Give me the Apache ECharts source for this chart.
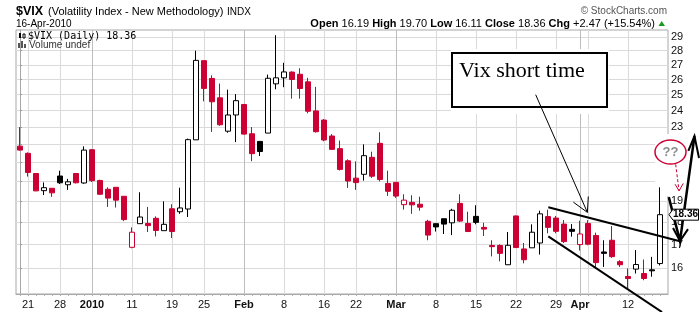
<!DOCTYPE html>
<html>
<head>
<meta charset="utf-8">
<script src="https://cdn.jsdelivr.net/npm/echarts@6/dist/echarts.min.js"></script>
<style>
  html, body { margin: 0; padding: 0; background: #fff; }
  #chart { width: 700px; height: 312px; }
</style>
</head>
<body>
<div id="chart"></div>
<script>
// daily bars, 18 Dec 2009 .. 16 Apr 2010
const dates = [
  'Dec 18', 'Dec 21', 'Dec 22', 'Dec 23', 'Dec 24', 'Dec 28', 'Dec 29', 'Dec 30', 'Dec 31',
  'Jan 4', 'Jan 5', 'Jan 6', 'Jan 7', 'Jan 8', 'Jan 11', 'Jan 12', 'Jan 13', 'Jan 14', 'Jan 15',
  'Jan 19', 'Jan 20', 'Jan 21', 'Jan 22', 'Jan 25', 'Jan 26', 'Jan 27', 'Jan 28', 'Jan 29',
  'Feb 1', 'Feb 2', 'Feb 3', 'Feb 4', 'Feb 5', 'Feb 8', 'Feb 9', 'Feb 10', 'Feb 11', 'Feb 12',
  'Feb 16', 'Feb 17', 'Feb 18', 'Feb 19', 'Feb 22', 'Feb 23', 'Feb 24', 'Feb 25', 'Feb 26',
  'Mar 1', 'Mar 2', 'Mar 3', 'Mar 4', 'Mar 5', 'Mar 8', 'Mar 9', 'Mar 10', 'Mar 11', 'Mar 12',
  'Mar 15', 'Mar 16', 'Mar 17', 'Mar 18', 'Mar 19', 'Mar 22', 'Mar 23', 'Mar 24', 'Mar 25', 'Mar 26',
  'Mar 29', 'Mar 30', 'Mar 31', 'Apr 1', 'Apr 5', 'Apr 6', 'Apr 7', 'Apr 8', 'Apr 9',
  'Apr 12', 'Apr 13', 'Apr 14', 'Apr 15', 'Apr 16'
];
const opens = [
  21.9, 21.5, 20.41, 19.53, 19.65, 20.28, 19.83, 20.41, 19.92,
  21.7, 20.05, 19.6, 19.7, 19.25, 16.88, 17.94, 17.95, 18.19, 17.62,
  18.64, 18.5, 18.63, 22.26, 27.29, 26.07, 24.8, 22.76, 23.73,
  24.38, 22.61, 22.17, 22.65, 25.71, 26.11, 26.5, 26.35, 25.84, 23.98,
  23.42, 22.48, 21.76, 21.09, 20.17, 20.37, 21.28, 22.06, 19.9,
  19.95, 18.84, 18.95, 18.86, 18.05, 17.94, 18.17, 17.98, 18.9, 17.95,
  18.28, 17.77, 16.96, 16.96, 16.14, 18.3, 16.81, 16.86, 17.07, 18.27,
  18.2, 17.92, 17.68, 17.0, 17.95, 17.4, 16.68, 17.19, 16.27,
  15.66, 15.96, 15.78, 15.93, 16.19
];
const highs = [
  23.0, 21.55, 20.44, 19.95, 19.65, 20.56, 20.13, 20.44, 21.89,
  21.74, 20.09, 19.7, 19.7, 19.25, 17.77, 19.45, 18.73, 18.28, 19.0,
  18.86, 19.68, 22.33, 28.0, 27.29, 26.28, 25.73, 25.33, 25.04,
  24.38, 23.0, 22.17, 26.33, 29.14, 27.14, 26.55, 26.76, 26.11, 25.51,
  23.48, 22.59, 22.22, 21.17, 21.06, 22.0, 21.59, 22.7, 20.56,
  19.95, 19.35, 19.3, 19.23, 18.12, 17.94, 18.17, 18.64, 19.35, 18.5,
  18.81, 17.98, 17.19, 17.01, 17.56, 18.32, 17.07, 17.91, 18.55, 18.6,
  18.3, 18.11, 17.92, 18.08, 18.1, 17.53, 17.19, 17.83, 16.33,
  15.99, 16.76, 16.36, 16.47, 19.7
];
const lows = [
  21.65, 20.25, 19.5, 19.31, 19.22, 19.87, 19.57, 19.9, 19.88,
  19.97, 19.31, 18.73, 18.7, 18.06, 16.84, 17.94, 17.56, 17.36, 17.62,
  17.29, 18.4, 18.25, 22.26, 24.58, 22.72, 23.08, 22.67, 22.13,
  22.57, 21.07, 21.35, 22.65, 25.35, 25.49, 24.75, 24.75, 23.83, 22.68,
  22.18, 21.68, 20.57, 19.67, 19.57, 20.04, 20.18, 20.0, 19.27,
  19.17, 18.6, 18.4, 18.55, 17.19, 17.58, 17.47, 17.42, 18.02, 17.56,
  17.91, 17.38, 16.49, 16.28, 16.13, 16.85, 16.2, 16.86, 16.57, 17.5,
  17.5, 17.07, 17.35, 16.74, 16.97, 16.05, 16.05, 16.43, 16.05,
  15.19, 15.78, 15.51, 15.65, 16.11
];
const closes = [
  21.68, 20.47, 19.52, 19.68, 19.42, 19.93, 19.98, 19.93, 21.68,
  20.04, 19.35, 19.16, 19.06, 18.13, 17.55, 18.25, 17.85, 17.63, 17.91,
  17.58, 18.68, 22.27, 27.31, 25.41, 24.55, 23.14, 23.73, 24.62,
  22.59, 21.48, 21.6, 26.08, 26.11, 26.51, 26.0, 25.4, 23.96, 22.73,
  22.25, 21.72, 20.63, 20.02, 19.94, 21.37, 20.27, 20.1, 19.5,
  19.26, 19.06, 18.83, 18.72, 17.42, 17.79, 17.92, 18.57, 18.06, 17.58,
  18.0, 17.69, 16.91, 16.62, 16.97, 16.87, 16.35, 17.55, 18.4, 17.77,
  17.59, 17.13, 17.59, 17.47, 17.02, 16.23, 16.62, 16.48, 16.14,
  15.58, 16.15, 15.58, 15.89, 18.36
];

// x axis: labelled bars, weekly grid, month grid
const labelIdx = [1, 5, 9, 14, 19, 23, 28, 33, 38, 42, 47, 52, 57, 62, 67, 70, 76];
const labelText = ['21', '28', '2010', '11', '19', '25', 'Feb', '8', '16', '22', 'Mar', '8', '15', '22', '29', 'Apr', '12'];
const weekLines = [1, 5, 9, 14, 19, 23, 28, 33, 38, 42, 47, 52, 57, 62, 67, 70, 71, 76];
const monthLines = [9, 28, 47, 70];

// y axis (log scale)
const priceTicks = [16, 17, 18, 19, 20, 21, 22, 23, 24, 25, 26, 27, 28, 29];
const priceMin = 14.97;
const priceMax = 29.53;

// hand drawn notes, as [bar index, price]
const pointerLine = [[64.46, 25.0], [70.92, 18.47]];
const pointerHead = [[69.17, 18.96], [70.92, 18.47], [71.04, 19.24]];
const wedgeUpper = [[66.04, 18.71], [82.5, 17.15]];
const wedgeLower = [[66.04, 17.36], [80.25, 14.29]];
const vArrow = [[81.1, 19.21], [82.5, 17.15], [84.31, 22.48]];
const vArrowTop = [[83.54, 21.64], [84.31, 22.48], [84.88, 21.24]];
const vArrowBottom = [[81.63, 17.74], [82.5, 17.15], [83.5, 17.69]];
const redArrow = [[81.96, 20.9], [82.38, 19.52]];
const redArrowHead = [[81.88, 19.86], [82.38, 19.52], [82.91, 19.9]];

const FONT = '"Liberation Sans", Arial, sans-serif';
const RED = '#cc0033';
const ln = Math.log;

const candleData = dates.map((d, i) => {
  const o = opens[i], c = closes[i];
  const prev = i > 0 ? closes[i - 1] : Infinity;
  const col = c < prev ? RED : '#000';
  const fill = c > o ? '#fff' : col;
  return {
    name: d,
    value: [i, ln(o), ln(c), ln(lows[i]), ln(highs[i])],
    itemStyle: { color: fill, color0: fill, borderColor: col, borderColor0: col, borderColorDoji: col }
  };
});

const notes = [
  { pts: pointerLine, color: '#000', width: 1 },
  { pts: pointerHead, color: '#000', width: 1 },
  { pts: wedgeUpper, color: '#000', width: 2 },
  { pts: wedgeLower, color: '#000', width: 2 },
  { pts: vArrow, color: '#000', width: 2.5 },
  { pts: vArrowTop, color: '#000', width: 2 },
  { pts: vArrowBottom, color: '#000', width: 2 },
  { pts: redArrow, color: RED, width: 1, dash: [3, 2] },
  { pts: redArrowHead, color: RED, width: 1 }
];

function renderNote(params, api) {
  const k = params.dataIndex;
  if (k === notes.length) {
    // last close tag on the price scale
    const last = closes[closes.length - 1];
    const y = api.coord([closes.length - 1, ln(last)])[1];
    const x0 = params.coordSys.x + params.coordSys.width + 1;
    return {
      type: 'group',
      children: [
        { type: 'polygon', shape: { points: [[x0, y], [x0 + 4, y - 5.5], [x0 + 29.5, y - 5.5], [x0 + 29.5, y + 5.5], [x0 + 4, y + 5.5]] },
          style: { fill: '#fff', stroke: '#000', lineWidth: 1 } },
        { type: 'text', x: x0 + 4, y: y, style: { text: last.toFixed(2), font: 'bold 10px ' + FONT, fill: '#000', verticalAlign: 'middle' } }
      ]
    };
  }
  const n = notes[k];
  return {
    type: 'polyline',
    shape: { points: n.pts.map(p => api.coord([p[0], ln(p[1])])) },
    style: { fill: null, stroke: n.color, lineWidth: n.width, lineDash: n.dash || null }
  };
}

const chart = echarts.init(document.getElementById('chart'));

const xBase = { type: 'value', min: -0.5, max: 81, position: 'bottom', axisLine: { show: false, onZero: false } };

chart.setOption({
  animation: false,
  grid: { left: 16, right: 32, top: 30, bottom: 18, show: true, borderColor: '#a8a8a8', borderWidth: 1 },
  xAxis: [
    Object.assign({}, xBase, {
      axisLine: { show: true, onZero: false, lineStyle: { color: '#a8a8a8' } },
      axisTick: { show: false, customValues: weekLines },
      splitLine: { show: true, customValues: weekLines, lineStyle: { color: '#dadada', width: 1 } },
      axisLabel: {
        customValues: labelIdx,
        margin: 5,
        color: '#111',
        fontFamily: FONT,
        fontSize: 11,
        formatter: v => {
          const t = labelText[labelIdx.indexOf(Math.round(v))];
          return /^[0-9]{1,2}$/.test(t) ? t : '{b|' + t + '}';
        },
        rich: { b: { fontWeight: 'bold', fontSize: 11, fontFamily: FONT, color: '#111' } }
      }
    }),
    Object.assign({}, xBase, {
      axisTick: { show: false, customValues: monthLines },
      splitLine: { show: true, customValues: monthLines, lineStyle: { color: '#bdbdbd', width: 1 } },
      axisLabel: { show: false }
    }),
    Object.assign({}, xBase, {
      axisTick: { show: true, length: 2, customValues: dates.map((d, i) => i), lineStyle: { color: '#b0b0b0' } },
      splitLine: { show: false },
      axisLabel: { show: false }
    })
  ],
  yAxis: {
    type: 'value',
    position: 'right',
    min: ln(priceMin),
    max: ln(priceMax),
    axisLine: { show: true, lineStyle: { color: '#a8a8a8' } },
    axisTick: { show: true, length: 2, customValues: priceTicks.map(ln), lineStyle: { color: '#999' } },
    splitLine: { show: true, customValues: priceTicks.map(ln), lineStyle: { color: '#dadada', width: 1 } },
    axisLabel: {
      customValues: priceTicks.map(ln),
      margin: 3,
      color: '#111',
      fontFamily: FONT,
      fontSize: 11,
      formatter: v => String(Math.round(Math.exp(v)))
    }
  },
  graphic: [
    { type: 'text', x: 16, y: 11.5, z: 1, style: { text: '$VIX', font: 'bold 12.5px ' + FONT, fill: '#000', verticalAlign: 'middle' } },
    { type: 'text', x: 48, y: 12, z: 1, style: { text: '(Volatility Index - New Methodology)', font: '11px ' + FONT, fill: '#000', verticalAlign: 'middle' } },
    { type: 'text', x: 227, y: 12.5, z: 1, style: { text: 'INDX', font: '10px ' + FONT, fill: '#000', verticalAlign: 'middle' } },
    { type: 'text', x: 16, y: 24, z: 1, style: { text: '16-Apr-2010', font: '10px ' + FONT, fill: '#000', verticalAlign: 'middle' } },
    { type: 'text', x: 667, y: 11, z: 1, style: { text: '\u00a9 StockCharts.com', font: '10px ' + FONT, fill: '#555', align: 'right', verticalAlign: 'middle' } },
    { type: 'text', x: 655, y: 24, z: 1, style: {
        text: '{b|Open} 16.19 {b|High} 19.70 {b|Low} 16.11 {b|Close} 18.36 {b|Chg} +2.47 (+15.54%)',
        font: '11px ' + FONT, fill: '#000', align: 'right', verticalAlign: 'middle',
        rich: { b: { fontWeight: 'bold', fontSize: 11, fontFamily: FONT, fill: '#000' } } } },
    { type: 'polygon', z: 1, shape: { points: [[658.5, 26], [665, 26], [661.7, 21]] }, style: { fill: '#1a9a1a' } },

    // legend rows inside the plot
    { type: 'rect', z: 1, shape: { x: 19, y: 33, width: 2, height: 5 }, style: { fill: '#000' } },
    { type: 'rect', z: 1, shape: { x: 23, y: 34, width: 2, height: 4 }, style: { fill: '#fff', stroke: '#000', lineWidth: 1 } },
    { type: 'text', x: 28, y: 36, z: 1, style: { text: '$VIX (Daily) 18.36', font: '10px "DejaVu Sans Mono", monospace', fill: '#000', verticalAlign: 'middle' } },
    { type: 'rect', z: 1, shape: { x: 18, y: 43, width: 2, height: 5 }, style: { fill: '#555' } },
    { type: 'rect', z: 1, shape: { x: 21, y: 41, width: 2, height: 7 }, style: { fill: '#555' } },
    { type: 'rect', z: 1, shape: { x: 24, y: 44, width: 2, height: 4 }, style: { fill: '#555' } },
    { type: 'text', x: 29, y: 45, z: 1, style: { text: 'Volume undef', font: '10px ' + FONT, fill: '#333', verticalAlign: 'middle' } },

    // annotation backdrops and text box
    { type: 'rect', z: 1, shape: { x: 451, y: 49, width: 158, height: 65 }, style: { fill: '#fff' } },
    { type: 'rect', z: 1, shape: { x: 655, y: 134, width: 45, height: 62 }, style: { fill: '#fff' } },
    { type: 'rect', z: 1, shape: { x: 452, y: 53, width: 155, height: 54 }, style: { fill: '#fff', stroke: '#000', lineWidth: 2 } },
    { type: 'text', x: 459, y: 71.5, z: 1, style: { text: 'Vix short time', font: '22px "Liberation Serif", "DejaVu Serif", serif', fill: '#000', verticalAlign: 'middle' } },
    { type: 'ellipse', z: 4, shape: { cx: 670.5, cy: 152, rx: 15.5, ry: 12 }, style: { fill: '#fff', stroke: RED, lineWidth: 1.5 } },
    { type: 'text', x: 670.5, y: 152, z: 4, style: { text: '??', font: 'bold 13px ' + FONT, fill: '#8c8c8c', align: 'center', verticalAlign: 'middle' } }
  ],
  series: [
    {
      type: 'candlestick',
      xAxisIndex: 0,
      yAxisIndex: 0,
      data: candleData,
      barWidth: 6,
      silent: true,
      z: 2,
      itemStyle: { borderWidth: 1 }
    },
    {
      type: 'custom',
      xAxisIndex: 0,
      yAxisIndex: 0,
      clip: false,
      silent: true,
      z: 5,
      renderItem: renderNote,
      data: notes.map((n, i) => [i, ln(priceMin)]).concat([[notes.length, ln(priceMin)]])
    }
  ]
});
</script>
</body>
</html>
